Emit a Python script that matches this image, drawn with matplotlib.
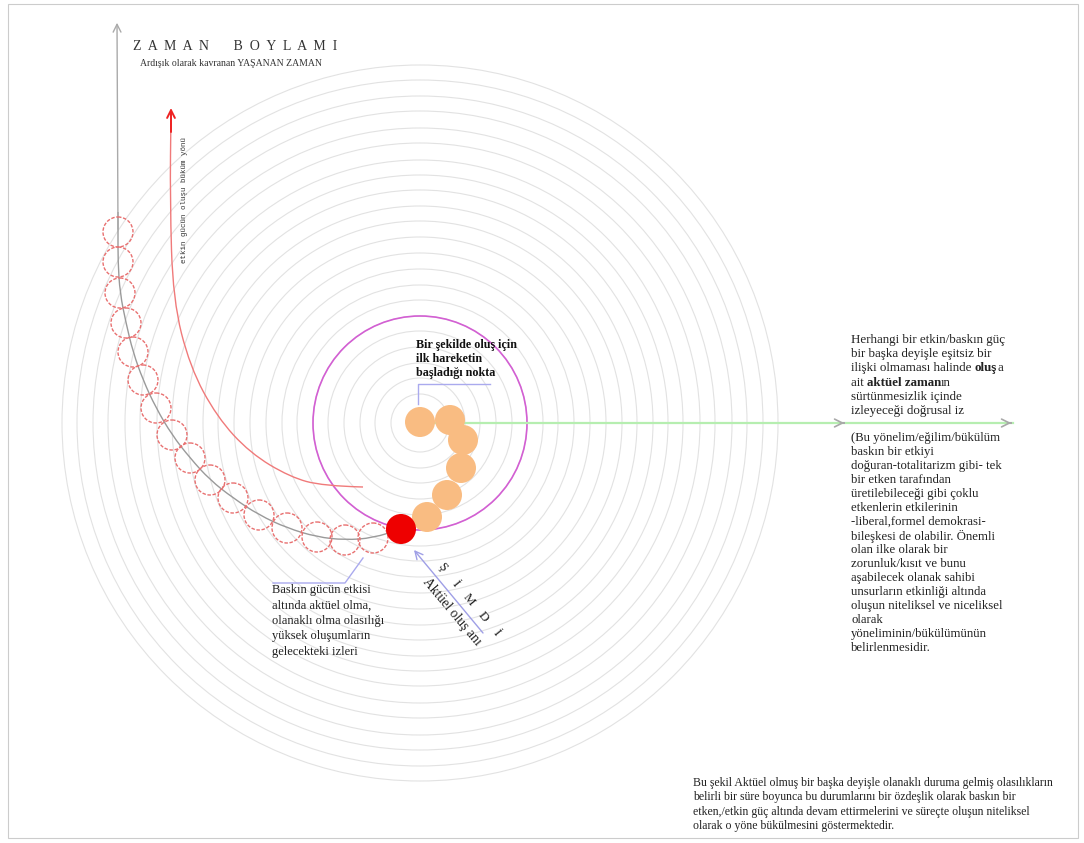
import matplotlib.pyplot as plt
from matplotlib.patches import Circle, Rectangle, PathPatch
from matplotlib.path import Path

SERIF = "Liberation Serif"

# concentric time rings around the origin point
CENTER = (420, 423)
RING_RADII = [29, 45, 60, 76, 92, 107, 123, 138, 154, 170, 186, 202, 217,
              233, 248, 263, 280, 295, 312, 327, 343, 358]
MAGENTA_RADIUS = 107

# orange circles: first movement from the starting point
ORANGE_X = [420, 450, 463, 461, 447, 427]
ORANGE_Y = [422, 420, 440, 468, 495, 517]
NOW_XY = (401, 529)

# dashed red circles: future traces along the time meridian
TRACE_X = [118, 118, 120, 126, 133, 143, 156, 172, 190, 210, 233, 259, 287, 317, 345, 373]
TRACE_Y = [232, 262, 293, 323, 352, 380, 408, 435, 458, 480, 498, 515, 528, 537, 540, 538]
TRACE_R = 15

# red bending direction curve
BEND_X = [363, 323, 290, 250, 217, 190, 173, 170, 171]
BEND_Y = [487, 486, 477, 453, 417, 367, 300, 200, 112]

TOP_LABEL = "Z  A  M  A  N       B  O  Y  L  A  M  I"
TOP_SUB = "Ardışık olarak kavranan YAŞANAN ZAMAN"
BEND_LABEL = "etkin gücün oluşu büküm yönü"

START_LINES = ["Bir şekilde oluş için", "ilk hareketin", "başladığı nokta"]
TRACE_LINES = ["Baskın gücün etkisi", "altında aktüel olma,", "olanaklı olma olasılığı",
               "yüksek oluşumların", "gelecekteki izleri"]

RIGHT_TOP = [
    [("Herhangi bir etkin/baskın güç", "normal")],
    [("bir başka deyişle eşitsiz bir", "normal")],
    [("ilişki olmaması halinde ", "normal"), ("oluş", "bold"), ("a", "normal")],
    [("ait ", "normal"), ("aktüel zaman", "bold"), ("ın", "normal")],
    [("sürtünmesizlik içinde", "normal")],
    [("izleyeceği doğrusal iz", "normal")],
]
RIGHT_BOTTOM = [
    "(Bu yönelim/eğilim/bükülüm", "baskın bir etkiyi", "doğuran-totalitarizm gibi- tek",
    "bir etken tarafından", "üretilebileceği gibi çoklu", "etkenlerin etkilerinin",
    "-liberal,formel demokrasi-", "bileşkesi de olabilir. Önemli", "olan ilke olarak bir",
    "zorunluk/kısıt ve bunu", "aşabilecek olanak sahibi", "unsurların etkinliği altında",
    "oluşun niteliksel ve niceliksel", "olarak", "yöneliminin/bükülümünün",
    "belirlenmesidir.",
]
FOOT_LINES = [
    "Bu şekil Aktüel olmuş bir başka deyişle olanaklı duruma gelmiş olasılıkların",
    "belirli bir süre boyunca bu durumlarını bir özdeşlik olarak baskın bir",
    "etken,/etkin güç altında devam ettirmelerini ve süreçte oluşun niteliksel",
    "olarak o yöne bükülmesini göstermektedir.",
]


def smooth_path(xs, ys):
    # quadratic bezier through the midpoints, using the read points as controls
    verts = [(xs[0], ys[0])]
    codes = [Path.MOVETO]
    for i in range(1, len(xs) - 1):
        verts += [(xs[i], ys[i]), ((xs[i] + xs[i + 1]) / 2, (ys[i] + ys[i + 1]) / 2)]
        codes += [Path.CURVE3, Path.CURVE3]
    verts.append((xs[-1], ys[-1]))
    codes.append(Path.LINETO)
    return Path(verts, codes)


fig = plt.figure(figsize=(10.84, 8.43), dpi=100)
ax = fig.add_axes([0, 0, 1, 1])
ax.set_xlim(0, 1084)
ax.set_ylim(843, 0)
ax.axis("off")

ax.add_patch(Rectangle((8, 4), 1070, 834, fill=False, edgecolor="#cccccc", lw=0.8))

for r in RING_RADII:
    ax.add_patch(Circle(CENTER, r, fill=False, edgecolor="#e2e2e2", lw=0.8))

ax.add_patch(Circle(CENTER, MAGENTA_RADIUS, fill=False, edgecolor="#d35fd3", lw=1.2, zorder=3))

# straight trace to the right
ax.plot([CENTER[0], 1013], [CENTER[1], CENTER[1]], color="#b6eeb0", lw=1.6, zorder=3)
for xh in (847, 1014):
    ax.annotate("", xy=(xh, CENTER[1]), xytext=(xh - 6, CENTER[1]),
                arrowprops=dict(arrowstyle="->", color="#a8a8a8", lw=1.2,
                                mutation_scale=14), zorder=4)

# time meridian arrow and curve through traces
curve_x = [TRACE_X[0]] + TRACE_X + [NOW_XY[0]]
curve_y = [TRACE_Y[0] - 20] + TRACE_Y + [NOW_XY[1]]
ax.add_patch(PathPatch(smooth_path(curve_x, curve_y), fill=False,
                       edgecolor="#9a9a9a", lw=1.0, zorder=2))
ax.annotate("", xy=(117, 20), xytext=(TRACE_X[0], TRACE_Y[0]),
            arrowprops=dict(arrowstyle="->", color="#aaaaaa", lw=1.0,
                            mutation_scale=14))

for x, y in zip(TRACE_X, TRACE_Y):
    ax.add_patch(Circle((x, y), TRACE_R, fill=False, edgecolor="#e87070",
                        lw=1.0, linestyle=(0, (2.5, 1.2)), zorder=4))

# red bending curve
ax.add_patch(PathPatch(smooth_path(BEND_X, BEND_Y), fill=False,
                       edgecolor="#f07a7a", lw=1.0, zorder=3))
ax.annotate("", xy=(BEND_X[-1], BEND_Y[-1] - 4), xytext=(BEND_X[-1], BEND_Y[-1] + 20),
            arrowprops=dict(arrowstyle="->", color="#ee2222", lw=1.4,
                            mutation_scale=14, shrinkA=0, shrinkB=0))

for x, y in zip(ORANGE_X, ORANGE_Y):
    ax.add_patch(Circle((x, y), 15, color="#f9bc82", lw=0, zorder=5))
ax.add_patch(Circle(NOW_XY, 15, color="#ee0000", lw=0, zorder=6))

# labels
ax.text(133, 47, TOP_LABEL, family=SERIF, fontsize=10, va="center", color="#333333")
ax.text(140, 64, TOP_SUB, family=SERIF, fontsize=7, va="center", color="#333333")
ax.text(185, 200, BEND_LABEL, family="Liberation Mono", fontsize=5.4, rotation=90,
        ha="center", va="center", color="#333333")

for i, line in enumerate(START_LINES):
    ax.text(416, 345 + i * 14, line, family=SERIF, fontsize=8.7, fontweight="bold",
            va="center", color="#111111")
ax.plot([490, 418, 418], [384, 384, 404], color="#aaaaee", lw=1.0)

for i, line in enumerate(TRACE_LINES):
    ax.text(272, 590 + i * 15.5, line, family=SERIF, fontsize=9, va="center", color="#222222")
ax.plot([273, 345, 363], [583, 583, 558], color="#aaaaee", lw=1.0)

# ŞİMDİ arrow and labels
ax.annotate("", xy=(414, 550), xytext=(483, 633),
            arrowprops=dict(arrowstyle="->", color="#9f9fe6", lw=1.0,
                            mutation_scale=14, shrinkA=0, shrinkB=0))
for i, ch in enumerate("ŞİMDİ"):
    ax.text(442 + i * 13.5, 567 + i * 16.5, ch, family=SERIF, fontsize=9.5, rotation=-51,
            ha="center", va="center", color="#222222")
ax.text(425, 580, "Aktüel oluş anı", family=SERIF, fontsize=9.8, rotation=-50,
        rotation_mode="anchor", ha="left", va="center", color="#222222")

# right side paragraph with bold segments
for i, segs in enumerate(RIGHT_TOP):
    prev = None
    for txt, weight in segs:
        if prev is None:
            prev = ax.text(851, 340 + i * 14.2, txt, family=SERIF, fontsize=9.4,
                           fontweight=weight, va="center", color="#222222")
        else:
            prev = ax.annotate(txt, xy=(1, 0.5), xycoords=prev, va="center",
                               family=SERIF, fontsize=9.4, fontweight=weight,
                               color="#222222")

for i, line in enumerate(RIGHT_BOTTOM):
    ax.text(851, 438 + i * 14, line, family=SERIF, fontsize=9.2, va="center", color="#222222")

for i, line in enumerate(FOOT_LINES):
    ax.text(693, 783 + i * 14.3, line, family=SERIF, fontsize=8.5, va="center", color="#222222")

fig.savefig("out.png", dpi=100)
